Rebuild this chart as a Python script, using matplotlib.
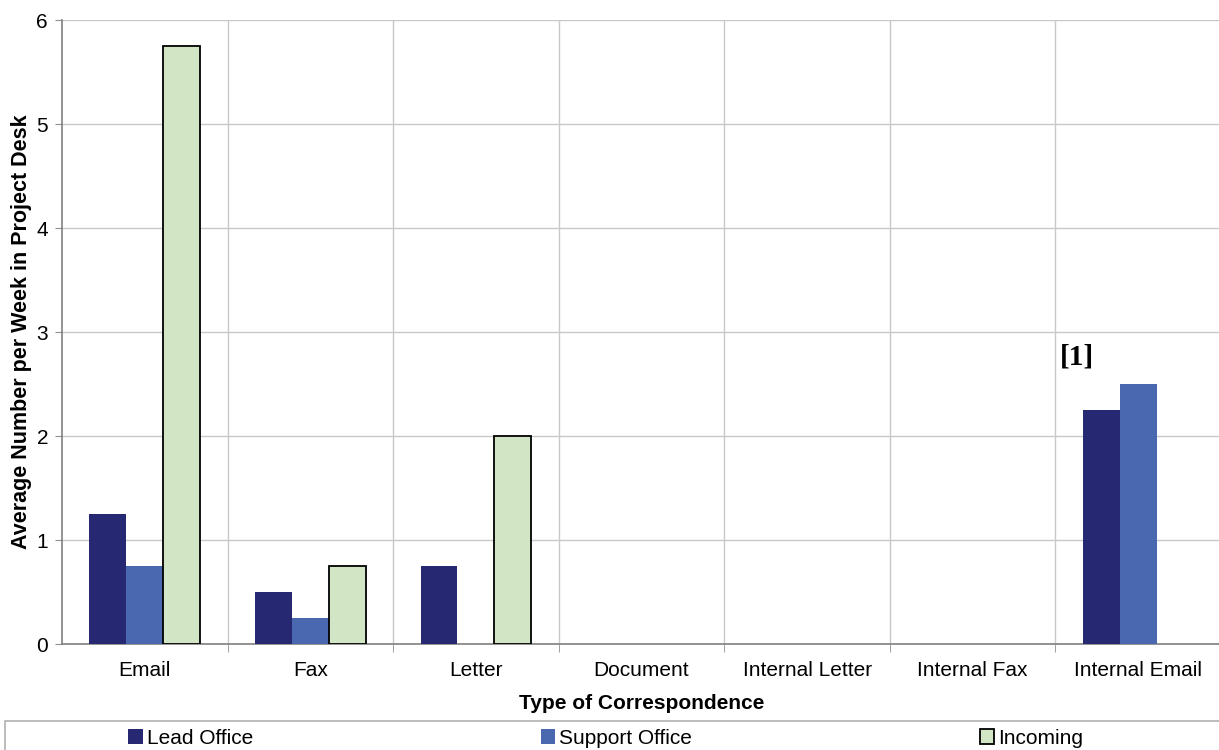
import numpy as np
import matplotlib.pyplot as plt
from matplotlib.patches import Rectangle

plt.rcParams['font.family'] = ['Liberation Sans', 'DejaVu Sans']

categories = ['Email', 'Fax', 'Letter', 'Document', 'Internal Letter',
              'Internal Fax', 'Internal Email']
lead_office = [1.25, 0.5, 0.75, 0, 0, 0, 2.25]
support_office = [0.75, 0.25, 0, 0, 0, 0, 2.5]
incoming = [5.75, 0.75, 2.0, 0, 0, 0, 0]

fig = plt.figure(figsize=(12.19, 7.5), dpi=100)
ax = fig.add_axes([62 / 1219, 1 - 644 / 750, 1159 / 1219, 624 / 750])

x = np.arange(len(categories))
w = 0.223
ax.bar(x - w, lead_office, w, color='#262872', label='Lead Office', zorder=3)
ax.bar(x, support_office, w, color='#4a68b0', label='Support Office', zorder=3)
# no outline on empty bars
edge_w = [1.3 if v > 0 else 0 for v in incoming]
ax.bar(x + w, incoming, w, color='#d2e6c6', edgecolor='black', linewidth=edge_w,
       label='Incoming', zorder=3)

ax.set_xlim(-0.5, len(categories) - 0.5)
ax.set_ylim(0, 6)
ax.set_yticks(range(7))
ax.set_xticks(x)
ax.set_xticklabels(categories)
ax.set_xticks(np.arange(0.5, len(categories) - 1, 1), minor=True)
ax.tick_params(axis='x', which='major', length=0, labelsize=15, pad=12)
ax.tick_params(axis='x', which='minor', length=6, color='#909090')
ax.tick_params(axis='y', length=5, color='#909090', labelsize=15, pad=5)

ax.grid(axis='y', color='#c8c8c8', linewidth=1, zorder=0)
ax.grid(axis='x', which='minor', color='#c8c8c8', linewidth=1, zorder=0)
for s in ['top', 'right']:
    ax.spines[s].set_visible(False)
for s in ['left', 'bottom']:
    ax.spines[s].set_color('#808080')
    ax.spines[s].set_linewidth(1.2)

ax.set_xlabel('Type of Correspondence', fontsize=15, fontweight='bold', labelpad=10)
ax.set_ylabel('Average Number per Week in Project Desk', fontsize=15.5,
              fontweight='bold', labelpad=3)

ax.text(5.63, 2.76, '[1]', fontsize=21, fontweight='bold',
        family=['Liberation Serif', 'DejaVu Serif'], ha='center', va='center')

# legend box across the bottom
fig.patches.append(Rectangle((5 / 1219, -0.05), 1.0, 0.05 + 29 / 750,
                             transform=fig.transFigure, fill=False,
                             edgecolor='#b0b0b0', linewidth=1.2))
fig.legend(loc='center', bbox_to_anchor=(0.497, 1 - 738 / 750), ncol=3,
           frameon=False, fontsize=15, handlelength=0.7, handleheight=0.7,
           handletextpad=0.2, columnspacing=13.8)

fig.savefig('out.png', dpi=100)
